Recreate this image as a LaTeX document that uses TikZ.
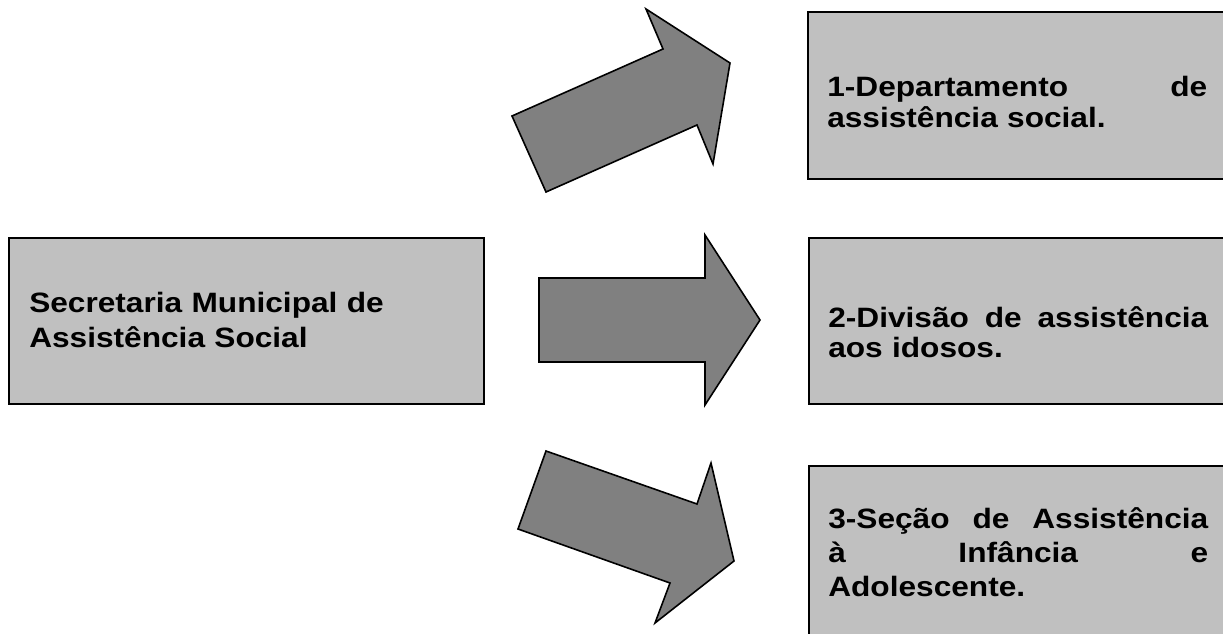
\documentclass[tikz,border=0pt]{standalone}
\usepackage{fontspec}
\setmainfont{Liberation Sans}[FakeStretch=1.13]
\definecolor{boxgray}{RGB}{192,192,192}
\definecolor{arrowgray}{RGB}{128,128,128}
\tikzset{
  unitbox/.style={draw=black, fill=boxgray, line width=1.2pt, rectangle, anchor=north west, inner sep=0pt},
  boxtext/.style={anchor=base west, align=left, inner sep=0pt, text width=285pt},
  blockarrow/.style={draw=black, fill=arrowgray, line width=1.2pt, line join=miter},
}
\begin{document}
\begin{tikzpicture} [x=0.75pt, y=-0.75pt]
\useasboundingbox (0,0) rectangle (1223,634);
\clip (0,0) rectangle (1223,634);
% boxes
\node [unitbox, minimum width=356.25pt, minimum height=124.5pt] (sec) at (8,237) {};
\node [unitbox, minimum width=315pt, minimum height=125.25pt] (dep) at (807,11) {};
\node [unitbox, minimum width=315pt, minimum height=124.5pt] (div) at (808,237) {};
\node [unitbox, minimum width=315pt, minimum height=150pt] (sea) at (808,465) {};
% texts
\node [boxtext, text width=324.75pt, font=\bfseries\fontsize{21}{26.25}\selectfont] (sectext) at (29,313) {Secretaria Municipal de\\Assistência Social};
\node [boxtext, font=\bfseries\fontsize{21}{23.25}\selectfont] (deptext) at (827,97) {1-Departamento\hfill de\\assistência social.};
\node [boxtext, font=\bfseries\fontsize{21}{22.5}\selectfont] (divtext) at (828,327) {2-Divisão\hfill de\hfill assistência\\aos idosos.};
\node [boxtext, font=\bfseries\fontsize{21}{25.5}\selectfont] (seatext) at (828,528) {3-Seção\hfill de\hfill Assistência\\à\hfill Infância\hfill e\\Adolescente.};
% block arrows
\draw [blockarrow] (512,116) -- (663,49) -- (646,9) -- (730,63) -- (713,164) -- (697,125) -- (546,192) -- cycle;
\draw [blockarrow] (539,278) -- (705,278) -- (705,235) -- (760,320) -- (705,405) -- (705,362) -- (539,362) -- cycle;
\draw [blockarrow] (546,451) -- (697,504) -- (711,463) -- (734,561) -- (655,623) -- (670,583) -- (518,529) -- cycle;
\end{tikzpicture}
\end{document}
